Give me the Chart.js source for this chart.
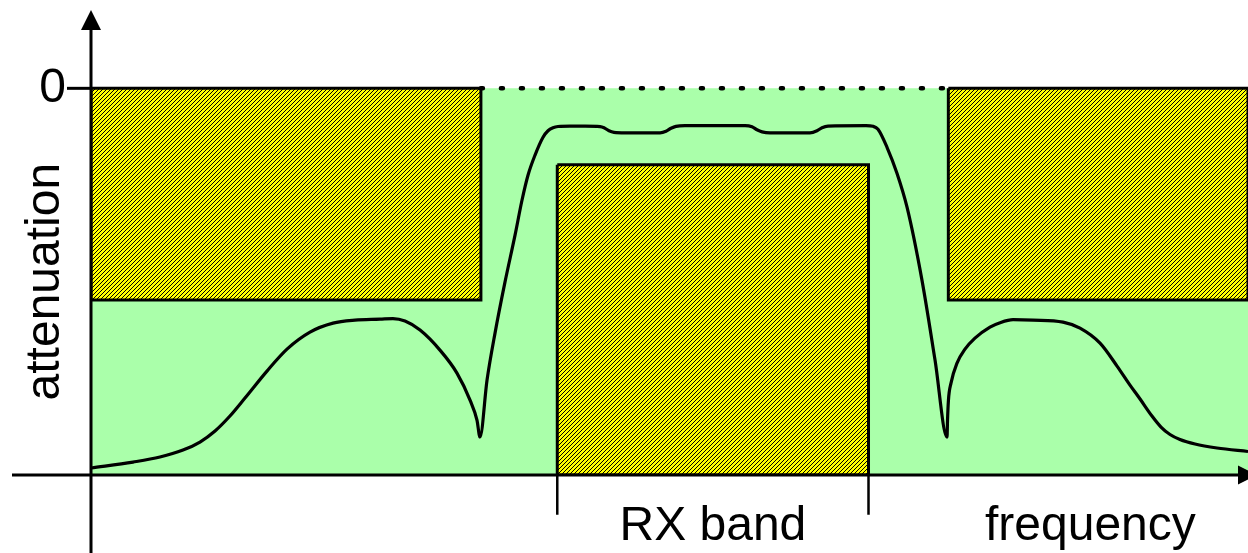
<!DOCTYPE html>
<html>
<head>
<meta charset="utf-8">
<title>RX band attenuation</title>
<script src="https://cdn.jsdelivr.net/npm/chart.js@4"></script>
<style>
  html, body { margin: 0; padding: 0; background: #fff; }
  #wrap { width: 1248px; height: 553px; }
</style>
</head>
<body>
<div id="wrap"><canvas id="chart"></canvas></div>
<script>
// axes ranges (frequency in arbitrary units, attenuation in dB)
const freqAxis = [0, 100]
const attenAxis = [-40, 8]

// stop bands (hatched boxes) and the RX band
const stopLowBand = [0, 33.7]
const stopHighBand = [74.1, 100]
const stopLevel = -21.9
const rxBand = [40.3, 67.2]
const rxLevel = -7.9
const rxMarkerEnd = -44.1

// tick + labels
const yTickValue = 0
const yTickLabel = "0"
const yTitle = "attenuation"
const xTitle = "frequency"
const rxLabel = "RX band"

// filter response
const respFreq = [0, 3.63, 5.96, 7.95, 9.42, 10.72, 12.01, 13.31, 15.21, 16.94,
  18.93, 20.92, 22.82, 24.98, 26.10, 27.14, 28.44, 30.16, 31.63, 32.76,
  33.36, 33.62, 34.23, 34.92, 35.78, 36.65, 37.25, 37.77, 38.37, 39.07,
  39.50, 39.93, 40.36, 41.40, 42.70, 44.00, 44.34, 44.77, 45.20, 46.15,
  49.18, 49.70, 50.13, 50.56, 51.34, 56.53, 57.13, 57.56, 58.00, 58.69,
  62.14, 62.75, 63.18, 63.70, 66.98, 67.59, 68.02, 68.80, 69.66, 70.53,
  71.82, 72.95, 73.99, 74.03, 74.11, 74.33, 74.85, 75.54, 76.40, 77.70,
  78.57, 79.69, 81.42, 84.01, 85.48, 87.21, 88.68, 89.80, 90.67, 91.70,
  92.48, 93.26, 94.12, 95.42, 97.32, 100]
const respAtten = [-39.28, -38.66, -38.14, -37.42, -36.59, -35.45, -33.90, -32.04, -29.25, -26.98,
  -25.22, -24.29, -23.98, -23.88, -23.82, -24.08, -25.01, -27.08, -29.46, -32.25,
  -34.32, -36.07, -30.18, -25.32, -20.05, -15.19, -11.58, -8.99, -6.93, -5.06,
  -4.39, -4.08, -3.95, -3.91, -3.91, -3.96, -4.08, -4.39, -4.55, -4.60,
  -4.60, -4.44, -4.13, -3.93, -3.86, -3.86, -3.98, -4.29, -4.50, -4.60,
  -4.60, -4.39, -4.08, -3.91, -3.86, -3.93, -4.24, -6.10, -8.79, -12.30,
  -19.84, -28.11, -36.07, -34.32, -32.25, -30.49, -28.42, -26.98, -25.84, -24.70,
  -24.24, -23.93, -23.98, -24.19, -24.81, -26.36, -28.73, -30.70, -32.14, -33.90,
  -35.04, -35.81, -36.33, -36.80, -37.21, -37.57]

const FONT = '48px "Liberation Sans", Arial, sans-serif'
const GREEN = '#aaffaa'

// closed rectangle path as line points
function rect(x0, x1, y0, y1) {
  return [
    { x: x0, y: y0 }, { x: x1, y: y0 }, { x: x1, y: y1 },
    { x: x0, y: y1 }, { x: x0, y: y0 },
  ]
}

// yellow with crisp 1px black diagonal lines
function hatchPattern(ctx) {
  const n = 4
  const c = document.createElement('canvas')
  c.width = n
  c.height = n
  const g = c.getContext('2d')
  g.fillStyle = '#ffff00'
  g.fillRect(0, 0, n, n)
  g.fillStyle = '#000'
  for (let i = 0; i < n; i++) g.fillRect(i, n - 1 - i, 1, 1)
  return ctx.createPattern(c, 'repeat')
}

// axes with arrows, tick and the texts
const axesPlugin = {
  id: 'axes',
  afterDatasetsDraw(chart) {
    const { ctx, scales: { x, y } } = chart
    const ax = x.getPixelForValue(freqAxis[0])
    const ay = y.getPixelForValue(attenAxis[0])
    const top = y.getPixelForValue(attenAxis[1])
    const right = x.getPixelForValue(freqAxis[1])
    const zeroY = y.getPixelForValue(yTickValue)

    ctx.save()
    ctx.strokeStyle = '#000'
    ctx.fillStyle = '#000'
    ctx.lineWidth = 3

    // y axis
    ctx.beginPath()
    ctx.moveTo(ax, top + 15)
    ctx.lineTo(ax, chart.height)
    ctx.stroke()
    ctx.beginPath()
    ctx.moveTo(ax, top - 1)
    ctx.lineTo(ax - 10, top + 19)
    ctx.lineTo(ax + 10, top + 19)
    ctx.closePath()
    ctx.fill()

    // x axis
    ctx.beginPath()
    ctx.moveTo(12, ay)
    ctx.lineTo(right - 5, ay)
    ctx.stroke()
    ctx.beginPath()
    ctx.moveTo(right + 9, ay)
    ctx.lineTo(right - 10, ay - 9.5)
    ctx.lineTo(right - 10, ay + 9.5)
    ctx.closePath()
    ctx.fill()

    // tick at 0
    ctx.beginPath()
    ctx.moveTo(ax - 24, zeroY)
    ctx.lineTo(ax, zeroY)
    ctx.stroke()

    ctx.font = FONT
    ctx.textBaseline = 'alphabetic'
    ctx.textAlign = 'right'
    ctx.fillText(yTickLabel, ax - 25, zeroY + 14)

    ctx.textAlign = 'center'
    const rxMid = (x.getPixelForValue(rxBand[0]) + x.getPixelForValue(rxBand[1])) / 2
    ctx.fillText(rxLabel, rxMid, 540)

    ctx.textAlign = 'left'
    ctx.fillText(xTitle, 985, 540)

    ctx.translate(59, (zeroY + ay) / 2)
    ctx.rotate(-Math.PI / 2)
    ctx.textAlign = 'center'
    ctx.fillText(yTitle, 0, 0)
    ctx.restore()
  },
}

window.addEventListener('load', () => {
  const canvas = document.getElementById('chart')
  const ctx = canvas.getContext('2d')
  const hatch = hatchPattern(ctx)

  const response = respFreq.map((f, i) => ({ x: f, y: respAtten[i] }))

  new Chart(ctx, {
    type: 'line',
    data: {
      datasets: [
        {
          data: response,
          borderColor: '#000',
          borderWidth: 3.2,
          borderJoinStyle: 'round',
          cubicInterpolationMode: 'monotone',
          fill: false,
          order: 1,
        },
        {
          data: [{ x: stopLowBand[1], y: 0 }, { x: stopHighBand[0], y: 0 }],
          borderColor: '#000',
          borderWidth: 4.5,
          borderDash: [2, 18],
          borderCapStyle: 'round',
          fill: false,
          order: 2,
        },
        {
          data: [{ x: rxBand[0], y: attenAxis[0] }, { x: rxBand[0], y: rxMarkerEnd }],
          borderColor: '#000',
          borderWidth: 2.5,
          fill: false,
          clip: false,
          order: 2,
        },
        {
          data: [{ x: rxBand[1], y: attenAxis[0] }, { x: rxBand[1], y: rxMarkerEnd }],
          borderColor: '#000',
          borderWidth: 2.5,
          fill: false,
          clip: false,
          order: 2,
        },
        {
          data: rect(stopLowBand[0], stopLowBand[1], 0, stopLevel),
          backgroundColor: hatch,
          borderColor: '#000',
          borderWidth: 3,
          fill: 'shape',
          order: 3,
        },
        {
          data: rect(stopHighBand[0], stopHighBand[1], 0, stopLevel),
          backgroundColor: hatch,
          borderColor: '#000',
          borderWidth: 3,
          fill: 'shape',
          order: 3,
        },
        {
          data: rect(rxBand[0], rxBand[1], rxLevel, attenAxis[0]),
          backgroundColor: hatch,
          borderColor: '#000',
          borderWidth: 3,
          fill: 'shape',
          order: 3,
        },
        {
          data: rect(freqAxis[0], freqAxis[1], 0, attenAxis[0]),
          backgroundColor: GREEN,
          borderColor: 'rgba(0,0,0,0)',
          borderWidth: 0,
          fill: 'shape',
          order: 5,
        },
      ],
    },
    options: {
      responsive: true,
      maintainAspectRatio: false,
      animation: false,
      layout: { padding: { left: 91, right: 0, top: 11, bottom: 78 } },
      scales: {
        x: { type: 'linear', min: freqAxis[0], max: freqAxis[1], display: false },
        y: { type: 'linear', min: attenAxis[0], max: attenAxis[1], display: false },
      },
      elements: { point: { radius: 0, hoverRadius: 0 }, line: { tension: 0 } },
      plugins: { legend: { display: false }, tooltip: { enabled: false } },
      events: [],
    },
    plugins: [axesPlugin],
  })
})
</script>
</body>
</html>
